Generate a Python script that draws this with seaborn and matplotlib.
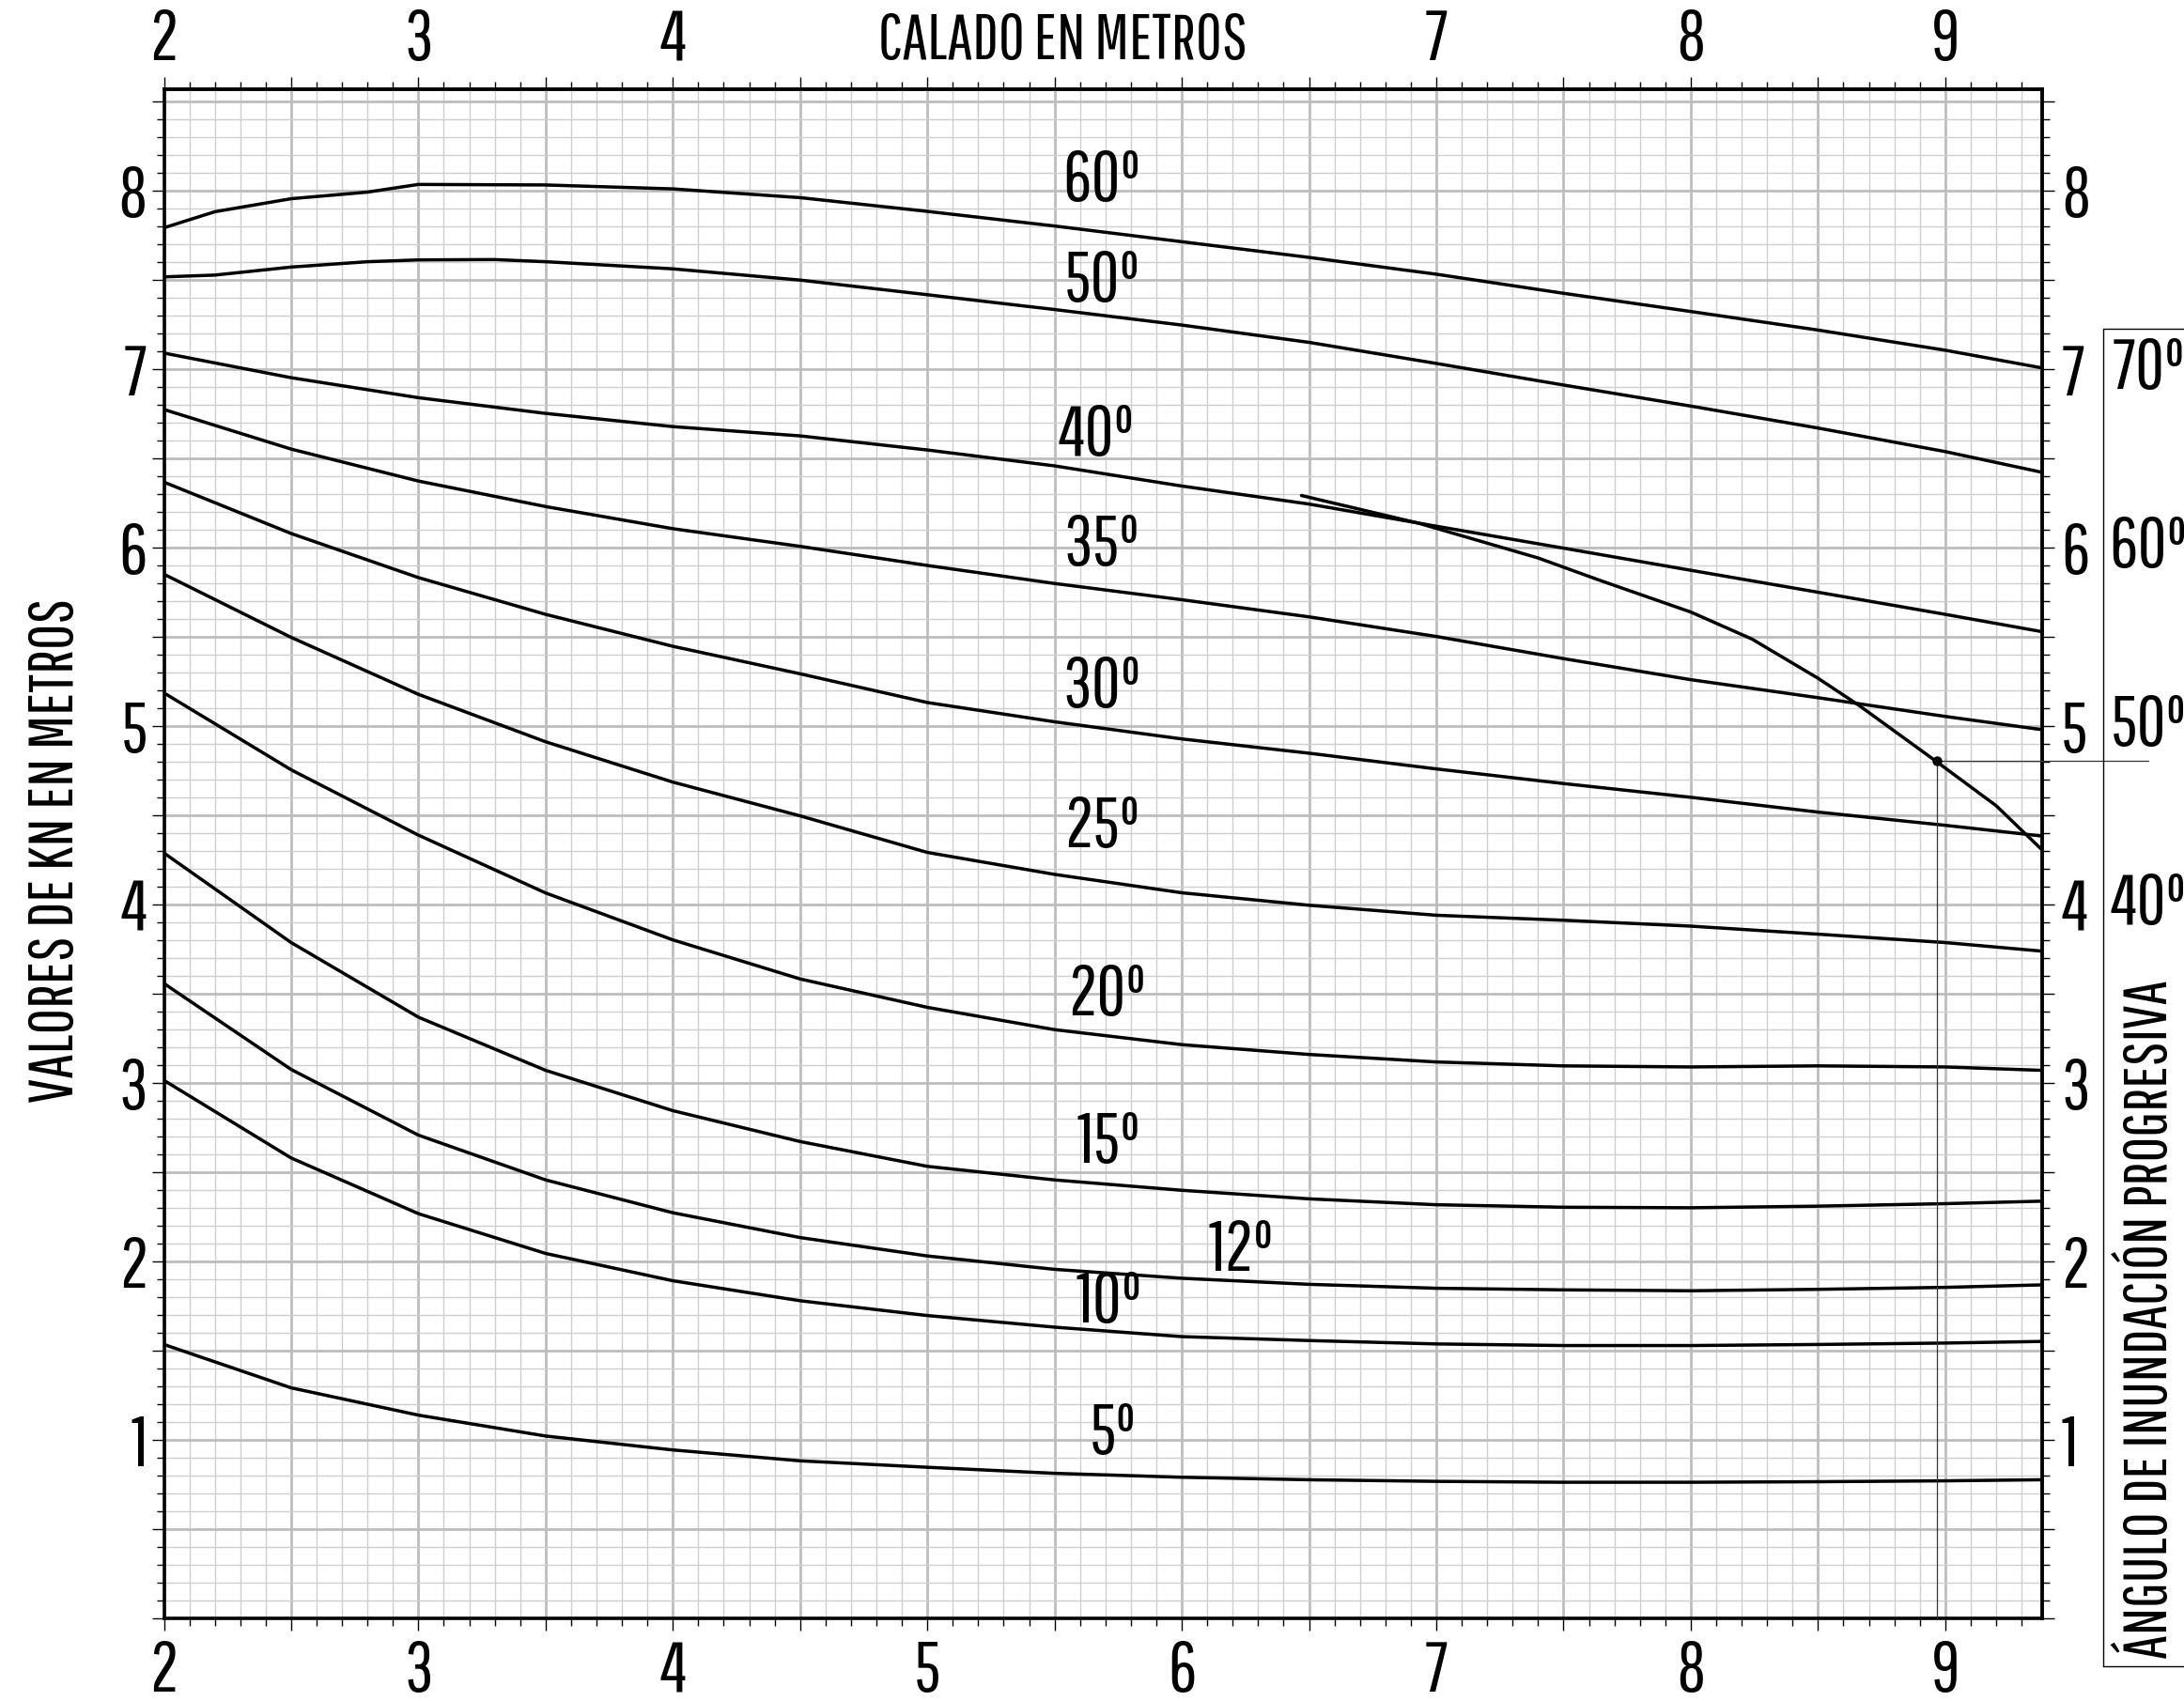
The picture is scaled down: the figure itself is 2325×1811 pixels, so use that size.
import numpy as np
import pandas as pd
import matplotlib
matplotlib.use("Agg")
import matplotlib.pyplot as plt
import matplotlib.transforms as mtransforms
from matplotlib.lines import Line2D
from matplotlib.ticker import MultipleLocator, FuncFormatter
from matplotlib.textpath import TextPath
from matplotlib.font_manager import FontProperties
import seaborn as sns

sns.set_theme(style="white")
FONT = ['Pathway Gothic One', 'Sofia Sans Extra Condensed', 'Liberation Sans', 'DejaVu Sans']
plt.rcParams['font.family'] = FONT
plt.rcParams.update({'text.color': 'black', 'axes.labelcolor': 'black',
                     'xtick.color': 'black', 'ytick.color': 'black'})

# ---------------- data ----------------
calado = [2, 2.5, 3, 3.5, 4, 4.5, 5, 5.5, 6, 6.5, 7, 7.5, 8, 8.5, 9, 9.38]

calado_60 = [2, 2.2, 2.5, 2.8, 3, 3.5, 4, 4.5, 5, 5.5, 6, 6.5, 7, 7.5, 8, 8.5, 9, 9.38]
kn_60 = [7.79, 7.88, 7.953, 7.99, 8.033, 8.03, 8.008, 7.959, 7.882, 7.80, 7.712, 7.624,
         7.53, 7.423, 7.321, 7.217, 7.104, 7.005]
calado_50 = [2, 2.2, 2.5, 2.8, 3, 3.3, 3.5, 4, 4.5, 5, 5.5, 6, 6.5, 7, 7.5, 8, 8.5, 9, 9.38]
kn_50 = [7.515, 7.525, 7.57, 7.60, 7.61, 7.612, 7.60, 7.56, 7.497, 7.415, 7.332, 7.245,
         7.148, 7.03, 6.909, 6.791, 6.668, 6.536, 6.42]
kn_40 = [7.088, 6.95, 6.838, 6.75, 6.676, 6.624, 6.545, 6.456, 6.343, 6.242, 6.118, 5.995,
         5.871, 5.748, 5.624, 5.527]
kn_35 = [6.772, 6.55, 6.371, 6.228, 6.104, 6.005, 5.898, 5.797, 5.706, 5.61, 5.50, 5.376,
         5.258, 5.157, 5.052, 4.978]
kn_30 = [6.365, 6.077, 5.83, 5.624, 5.445, 5.291, 5.13, 5.022, 4.926, 4.846, 4.758, 4.676,
         4.599, 4.516, 4.442, 4.382]
kn_25 = [5.849, 5.495, 5.176, 4.91, 4.684, 4.495, 4.29, 4.167, 4.064, 3.994, 3.938, 3.91,
         3.877, 3.832, 3.785, 3.737]
kn_20 = [5.184, 4.753, 4.387, 4.063, 3.80, 3.581, 3.422, 3.297, 3.213, 3.158, 3.116, 3.094,
         3.088, 3.094, 3.088, 3.069]
kn_15 = [4.287, 3.785, 3.367, 3.069, 2.843, 2.67, 2.531, 2.455, 2.397, 2.349, 2.316, 2.302,
         2.299, 2.308, 2.322, 2.336]
kn_12 = [3.556, 3.074, 2.706, 2.455, 2.271, 2.132, 2.029, 1.954, 1.904, 1.87, 1.848, 1.839,
         1.834, 1.842, 1.853, 1.867]
kn_10 = [3.013, 2.578, 2.266, 2.043, 1.89, 1.778, 1.695, 1.63, 1.577, 1.555, 1.536, 1.527,
         1.527, 1.533, 1.541, 1.55]
kn_5 = [1.533, 1.29, 1.137, 1.02, 0.942, 0.881, 0.845, 0.811, 0.789, 0.775, 0.766, 0.761,
        0.761, 0.764, 0.769, 0.775]

# progressive flooding angle curve
inund_x = [6.47, 6.93, 7.4, 7.64, 8.0, 8.24, 8.5, 8.66, 8.96, 9.2, 9.38]
inund_y = [6.29, 6.135, 5.94, 5.816, 5.637, 5.486, 5.266, 5.115, 4.805, 4.552, 4.305]
punto_x = 8.967
punto_y = 4.805
punto_fin_x = 9.798   # end of the horizontal reference line (inside the right box)

# curve labels
etiquetas = ["60º", "50º", "40º", "35º", "30º", "25º", "20º", "15º", "12º", "10º", "5º"]
etiq_x = [5.685, 5.686, 5.664, 5.686, 5.686, 5.686, 5.708, 5.712, 6.233, 5.713, 5.73]
etiq_y = [8.05, 7.49, 6.626, 6.008, 5.217, 4.43, 3.487, 2.662, 2.057, 1.77, 1.031]

# right-hand scale of the flooding angle
angulos_der = ["70º", "60º", "50º", "40º"]
angulos_der_y = [7, 6, 5, 4]

x_ticks_bottom = [2, 3, 4, 5, 6, 7, 8, 9]
x_ticks_top = [2, 3, 4, 7, 8, 9]
y_ticks = [1, 2, 3, 4, 5, 6, 7, 8]

titulo_x = "CALADO EN METROS"
titulo_y = "VALORES DE KN EN METROS"
titulo_der = "ÁNGULO DE INUNDACIÓN PROGRESIVA"

# ---------------- table for seaborn ----------------
rows = []
for ang, xs, ys in [("60", calado_60, kn_60), ("50", calado_50, kn_50)]:
    for xv, yv in zip(xs, ys):
        rows.append((ang, xv, yv))
for ang, ys in [("40", kn_40), ("35", kn_35), ("30", kn_30), ("25", kn_25), ("20", kn_20),
                ("15", kn_15), ("12", kn_12), ("10", kn_10), ("5", kn_5)]:
    for xv, yv in zip(calado, ys):
        rows.append((ang, xv, yv))
df = pd.DataFrame(rows, columns=["angulo", "calado", "kn"])
df_inund = pd.DataFrame({"calado": inund_x, "kn": inund_y})

# ---------------- font sizing helpers ----------------
fp = FontProperties(family=FONT)


def ink(s):
    e = TextPath((0, 0), s, size=100, prop=fp).get_extents()
    return e.width / 100.0, e.height / 100.0


PX2PT = 72.0 / 100.0
digit_h = ink("0123456789")[1]
tick_fs = 55.0 / digit_h * PX2PT
lab_fs = 55.0 / digit_h * PX2PT
tx_fs = 387.0 / ink(titulo_x)[0] * PX2PT
ty_fs = 533.0 / ink(titulo_y)[0] * PX2PT
tr_fs = 720.0 / ink(titulo_der)[0] * PX2PT

# ---------------- figure ----------------
W, H = 2325, 1811
fig = plt.figure(figsize=(W / 100, H / 100), dpi=100)
L, R, T, B = 174.5, 2173.5, 94.7, 1722.7
ax = fig.add_axes([L / W, 1 - B / H, (R - L) / W, (B - T) / H])

sns.lineplot(data=df, x="calado", y="kn", units="angulo", estimator=None, sort=False,
             color="black", lw=2.5, ax=ax, legend=False)
sns.lineplot(data=df_inund, x="calado", y="kn", estimator=None, sort=False,
             color="black", lw=2.5, ax=ax, legend=False)

ax.plot([punto_x, punto_x], [0, punto_y], color="#333333", lw=0.9, zorder=3)
ax.plot([punto_x, punto_fin_x], [punto_y, punto_y], color="#333333", lw=0.9,
        clip_on=False, zorder=3)
ax.plot([punto_x], [punto_y], marker="o", ms=6.5, color="black", zorder=4)

ax.set_xlim(2, 9.379)
ax.set_ylim(0, 8.568)
ax.set_xlabel("")
ax.set_ylabel("")

# grid
ax.xaxis.set_major_locator(MultipleLocator(0.5))
ax.xaxis.set_minor_locator(MultipleLocator(0.1))
ax.yaxis.set_major_locator(MultipleLocator(0.5))
ax.yaxis.set_minor_locator(MultipleLocator(0.1))
ax.set_axisbelow(True)
ax.grid(which="major", color="#bdbdbd", lw=2.0)
ax.grid(which="minor", color="#cfcfcf", lw=1.0)


def fmt_bottom(v, pos):
    r = round(v)
    return str(int(r)) if abs(v - r) < 1e-6 and r in x_ticks_bottom else ""


def fmt_top(v, pos):
    r = round(v)
    return str(int(r)) if abs(v - r) < 1e-6 and r in x_ticks_top else ""


def fmt_y(v, pos):
    r = round(v)
    return str(int(r)) if abs(v - r) < 1e-6 and r in y_ticks else ""


ax.xaxis.set_major_formatter(FuncFormatter(fmt_bottom))
ax.yaxis.set_major_formatter(FuncFormatter(fmt_y))

ax.tick_params(which="major", direction="out", length=9.4, width=1.0, color="black",
               labelsize=tick_fs, labelcolor="black")
ax.tick_params(which="minor", direction="out", length=5.8, width=1.0, color="black")
ax.tick_params(axis="y", which="both", left=True, right=False, labelleft=True, labelright=False)
ax.tick_params(axis="y", which="major", pad=3.2)
ax.tick_params(axis="x", which="both", bottom=True, top=False)
ax.tick_params(axis="x", which="major", pad=7)

sec = ax.secondary_xaxis("top")
sec.xaxis.set_major_locator(MultipleLocator(0.5))
sec.xaxis.set_minor_locator(MultipleLocator(0.1))
sec.xaxis.set_major_formatter(FuncFormatter(fmt_top))
sec.tick_params(which="major", direction="out", length=9.4, width=1.0, color="black",
                labelsize=tick_fs, labelcolor="black", pad=2.7)
sec.tick_params(which="minor", direction="out", length=5.8, width=1.0, color="black")
sec.spines["top"].set_linewidth(2.6)

secy = ax.secondary_yaxis("right")
secy.yaxis.set_major_locator(MultipleLocator(0.5))
secy.yaxis.set_minor_locator(MultipleLocator(0.1))
secy.yaxis.set_major_formatter(FuncFormatter(fmt_y))
secy.tick_params(which="major", direction="out", length=9.4, width=1.0, color="black",
                 labelsize=tick_fs, labelcolor="black", pad=5.5)
secy.tick_params(which="minor", direction="out", length=5.8, width=1.0, color="black")
secy.spines["right"].set_linewidth(2.6)

for s in ax.spines.values():
    s.set_visible(True)
    s.set_color("black")
    s.set_linewidth(2.6)

# curve labels
for t, xv, yv in zip(etiquetas, etiq_x, etiq_y):
    ax.text(xv, yv, t, ha="center", va="center", fontsize=lab_fs, color="black", zorder=5)

# axis titles
fig.text(1131 / W, 1 - 44 / H, titulo_x, ha="center", va="center",
         fontsize=tx_fs, color="black")
fig.text(59 / W, 1 - 905 / H, titulo_y, ha="center", va="center",
         rotation=90, fontsize=ty_fs, color="black")

# right box with flooding angle scale
bx = 2239 / W
fig.add_artist(Line2D([bx, bx], [1 - 350 / H, 1 - 1774 / H], transform=fig.transFigure,
                      color="black", lw=1.0))
fig.add_artist(Line2D([bx, 1.0], [1 - 350 / H, 1 - 350 / H], transform=fig.transFigure,
                      color="black", lw=1.0))
fig.add_artist(Line2D([bx, 1.0], [1 - 1774 / H, 1 - 1774 / H], transform=fig.transFigure,
                      color="black", lw=1.0))
blend = mtransforms.blended_transform_factory(fig.transFigure, ax.transData)
for t, yv in zip(angulos_der, angulos_der_y):
    ax.text(2287 / W, yv, t, transform=blend, ha="center", va="center", fontsize=lab_fs,
            color="black", clip_on=False)
fig.text(2288 / W, 1 - 1766 / H, titulo_der, ha="center",
         va="bottom", rotation=90, fontsize=tr_fs, color="black")

fig.savefig("out.png", dpi=100, facecolor="white")
